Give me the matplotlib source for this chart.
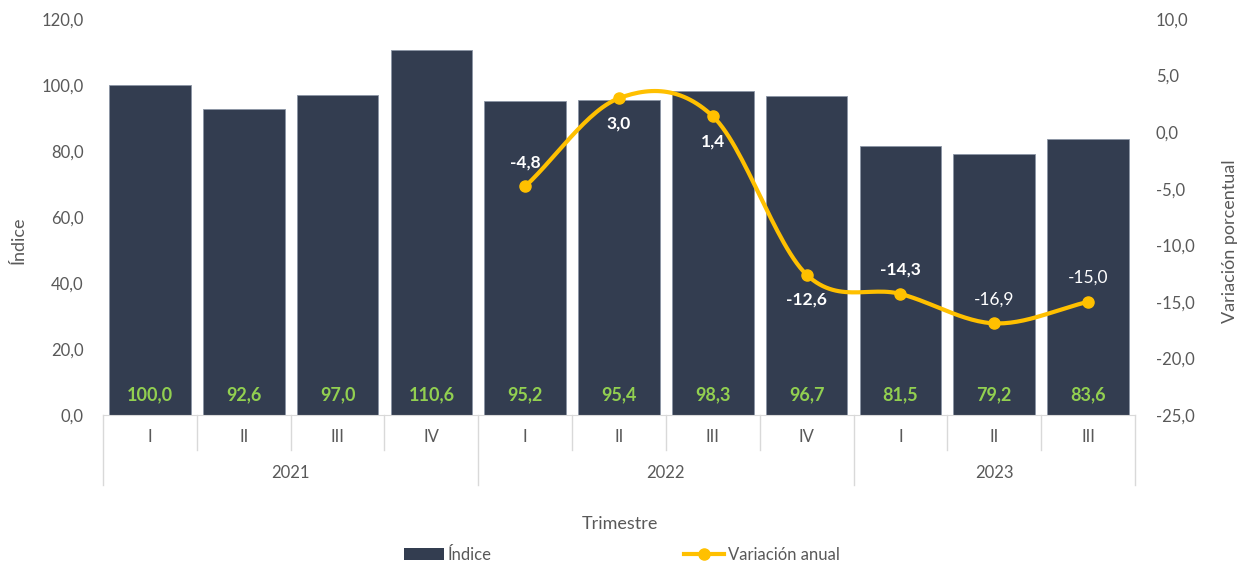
import numpy as np
import matplotlib.pyplot as plt
import matplotlib.transforms as mtransforms
from matplotlib.lines import Line2D
from matplotlib.patches import Patch

plt.rcParams['font.family'] = ['Lato', 'DejaVu Sans']

trimestres = ['I', 'II', 'III', 'IV', 'I', 'II', 'III', 'IV', 'I', 'II', 'III']
anios = ['2021', '2022', '2023']
anio_n = [4, 4, 3]
indice = [100.0, 92.6, 97.0, 110.6, 95.2, 95.4, 98.3, 96.7, 81.5, 79.2, 83.6]
variacion = [-4.8, 3.0, 1.4, -12.6, -14.3, -16.9, -15.0]
var_arriba = [True, False, False, False, True, True, True]   # etiqueta encima del punto
var_negrita = [True, True, True, True, True, False, False]

c_barra = '#333D50'
c_linea = '#FFC000'
c_verde = '#92D050'
c_texto = '#595959'
c_gris = '#D9D9D9'


def fmt(v):
    return f'{v:.1f}'.replace('.', ',')


def catmull_rom(xs, ys, n=30):
    # curva suavizada tipo Excel entre los puntos
    px = np.r_[2 * xs[0] - xs[1], xs, 2 * xs[-1] - xs[-2]]
    py = np.r_[2 * ys[0] - ys[1], ys, 2 * ys[-1] - ys[-2]]
    ox, oy = [], []
    t = np.linspace(0, 1, n)
    for i in range(1, len(px) - 2):
        for p, o in ((px, ox), (py, oy)):
            p0, p1, p2, p3 = p[i - 1], p[i], p[i + 1], p[i + 2]
            o.extend(0.5 * (2 * p1 + (-p0 + p2) * t + (2 * p0 - 5 * p1 + 4 * p2 - p3) * t ** 2
                            + (-p0 + 3 * p1 - 3 * p2 + p3) * t ** 3))
    return np.array(ox), np.array(oy)


fig = plt.figure(figsize=(12.43, 5.65), dpi=100)
ax = fig.add_axes([0.0829, 0.2655, 0.8302, 0.7009])
ax2 = ax.twinx()

x = np.arange(len(indice))
ax.bar(x, indice, width=0.87, color=c_barra, edgecolor='#8C95A5', linewidth=0.6, zorder=2)
for xi, v in zip(x, indice):
    ax.annotate(fmt(v), (xi, 0), xytext=(0, 20), textcoords='offset pixels',
                ha='center', va='center', color=c_verde, fontsize=13, fontweight='bold')

ax.set_xlim(-0.5, len(indice) - 0.5)
ax.set_ylim(0, 120)
ax.set_yticks(np.arange(0, 121, 20))
ax.set_yticklabels([fmt(v) for v in np.arange(0, 121, 20)])
ax.set_xticks([])
for s in ['top', 'right', 'left']:
    ax.spines[s].set_visible(False)
ax.spines['bottom'].set_color(c_gris)
ax.tick_params(axis='y', length=0, labelsize=12, colors=c_texto, pad=14)
ax.set_ylabel('Índice', fontsize=13, color=c_texto)
ax.yaxis.set_label_coords(-0.0736, 0.44)

# línea de variación
xv = x[4:]
cx, cy = catmull_rom(xv.astype(float), np.array(variacion))
ax2.plot(cx, cy, color=c_linea, linewidth=3, zorder=3, solid_capstyle='round')
ax2.plot(xv, variacion, 'o', color=c_linea, markersize=8, zorder=4)
for xi, v, up, b in zip(xv, variacion, var_arriba, var_negrita):
    ax2.annotate(fmt(v), (xi, v), xytext=(0, 24 if up else -25), textcoords='offset pixels',
                 ha='center', va='center', color='white', fontsize=12.5,
                 fontweight='bold' if b else 'normal', zorder=5)
ax2.set_ylim(-25, 10)
ax2.set_yticks(np.arange(-25, 11, 5))
ax2.set_yticklabels([fmt(v) for v in np.arange(-25, 11, 5)])
for s in ['top', 'right', 'left', 'bottom']:
    ax2.spines[s].set_visible(False)
ax2.tick_params(axis='y', length=0, labelsize=12, colors=c_texto, pad=15)
ax2.set_ylabel('Variación porcentual', fontsize=13, color=c_texto)
ax2.yaxis.set_label_coords(1.0843, 0.44)

# eje de categorías en dos niveles
tr = mtransforms.blended_transform_factory(ax.transData, ax.transAxes)
y_q = -35 / 396
y_a = -70 / 396
for xi, t in zip(x, trimestres):
    ax.text(xi, -22 / 396, t, transform=tr, ha='center', va='center', fontsize=12, color=c_texto)
inicio = 0
bordes = [-0.5]
for a, n in zip(anios, anio_n):
    ax.text(inicio + (n - 1) / 2, -58 / 396, a, transform=tr, ha='center', va='center',
            fontsize=12, color=c_texto)
    inicio += n
    bordes.append(inicio - 0.5)
for i in range(len(indice) + 1):
    xb = i - 0.5
    ylow = y_a if xb in bordes else y_q
    ax.add_line(Line2D([xb, xb], [0, ylow], transform=tr, color=c_gris, linewidth=1, clip_on=False))

fig.text(620 / 1243, 1 - 524 / 565, 'Trimestre', ha='center', va='center', fontsize=13, color=c_texto)

handles = [Patch(facecolor=c_barra, label='Índice'),
           Line2D([], [], color=c_linea, linewidth=3, marker='o', markersize=8, label='Variación anual')]
fig.legend(handles=handles, loc='center', bbox_to_anchor=(622 / 1243, 1 - 555 / 565), ncol=2,
           frameon=False, fontsize=12, handlelength=2.4, handletextpad=0.25, columnspacing=11.5,
           labelcolor=c_texto)

fig.savefig('out.png', dpi=100)
